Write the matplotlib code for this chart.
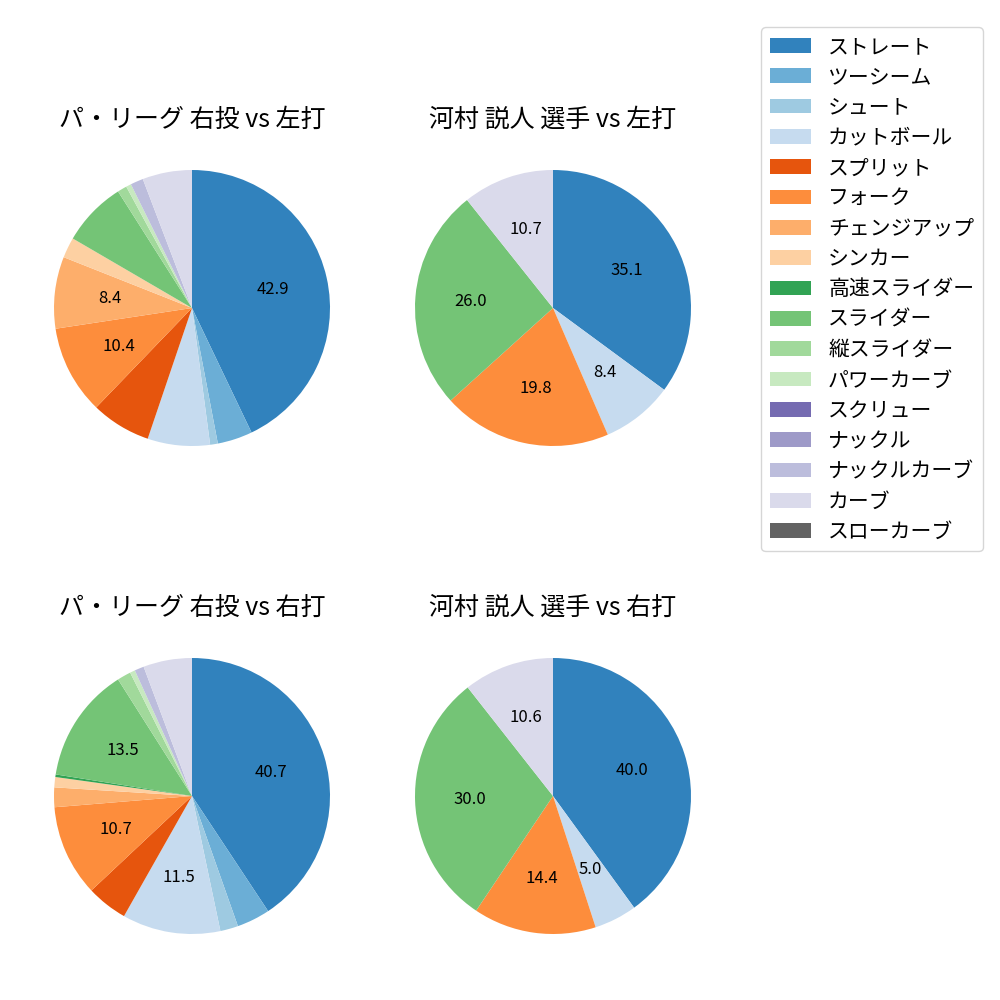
import matplotlib
matplotlib.use("Agg")
import matplotlib.pyplot as plt

plt.rcParams['font.family'] = ['Noto Sans CJK JP', 'DejaVu Sans']

pitches = ["ストレート", "ツーシーム", "シュート", "カットボール", "スプリット", "フォーク",
           "チェンジアップ", "シンカー", "高速スライダー", "スライダー", "縦スライダー",
           "パワーカーブ", "スクリュー", "ナックル", "ナックルカーブ", "カーブ", "スローカーブ"]

league_vs_left = [42.9, 4.1, 0.9, 7.3, 7.0, 10.4, 8.4, 2.4, 0.0, 7.6, 1.1, 0.6, 0.0, 0.0, 1.5, 5.8, 0.0]
player_vs_left = [35.1, 0.0, 0.0, 8.4, 0.0, 19.8, 0.0, 0.0, 0.0, 26.0, 0.0, 0.0, 0.0, 0.0, 0.0, 10.7, 0.0]
league_vs_right = [40.7, 3.9, 2.1, 11.5, 4.8, 10.7, 2.3, 1.2, 0.3, 13.5, 1.6, 0.6, 0.0, 0.0, 1.1, 5.7, 0.0]
player_vs_right = [40.0, 0.0, 0.0, 5.0, 0.0, 14.4, 0.0, 0.0, 0.0, 30.0, 0.0, 0.0, 0.0, 0.0, 0.0, 10.6, 0.0]

titles = ["パ・リーグ 右投 vs 左打", "河村 説人 選手 vs 左打",
          "パ・リーグ 右投 vs 右打", "河村 説人 選手 vs 右打"]
series = [league_vs_left, player_vs_left, league_vs_right, player_vs_right]
min_label = [8, 4, 8, 4]

colors = plt.get_cmap('tab20c').colors[:len(pitches)]

fig = plt.figure(figsize=(10, 10), dpi=100)

size = 0.345
centers = [(0.192, 0.692), (0.553, 0.692), (0.192, 0.204), (0.553, 0.204)]

wedges_all = None
for i in range(4):
    cx, cy = centers[i]
    ax = fig.add_axes([cx - size / 2, cy - size / 2, size, size])
    lim = min_label[i]
    wedges, texts, autotexts = ax.pie(
        series[i], colors=colors, startangle=90, counterclock=False,
        autopct=lambda p, lim=lim: f"{p:.1f}" if p >= lim else "",
        textprops={'fontsize': 12})
    ax.set_title(titles[i], fontsize=18)
    if i == 0:
        wedges_all = wedges

fig.legend(wedges_all, pitches, loc='upper right', bbox_to_anchor=(0.993, 0.983),
           fontsize=15, labelspacing=0.4)

fig.savefig("out.png")
